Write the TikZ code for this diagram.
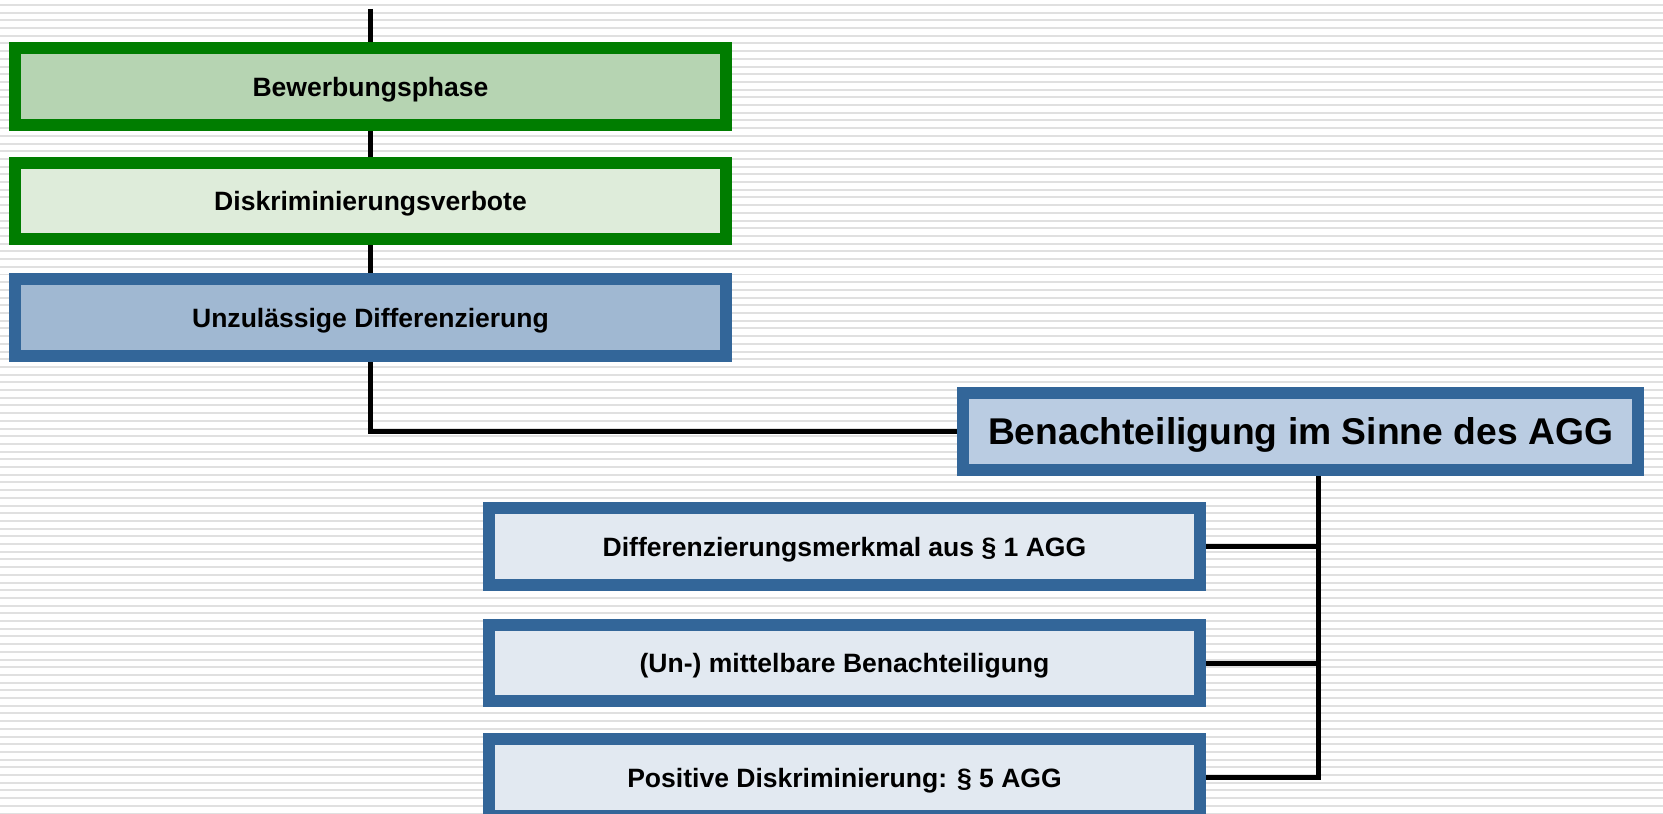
\documentclass[tikz,border=0pt]{standalone}
\usepackage{fontspec}
\setmainfont{Liberation Sans}
\usetikzlibrary{positioning,backgrounds}
\definecolor{agggreen}{RGB}{0,125,0}
\definecolor{aggblue}{RGB}{51,102,153}
\definecolor{phasefill}{RGB}{182,212,178}
\definecolor{verbotfill}{RGB}{222,236,218}
\definecolor{diffill}{RGB}{160,184,210}
\definecolor{benfill}{RGB}{186,204,226}
\definecolor{subfill}{RGB}{226,233,241}
\definecolor{bgline}{RGB}{224,224,224}
\begin{document}
\begin{tikzpicture}[x=0.02cm,y=-0.02cm,
  box/.style={draw,line width=0.24cm,inner sep=0pt,minimum width=14.22cm,minimum height=1.54cm,
    text depth=0pt,font=\fontsize{15.1}{18}\selectfont\bfseries},
  greenbox/.style={box,draw=agggreen},
  bluebox/.style={box,draw=aggblue},
  link/.style={line width=0.1cm}]
\useasboundingbox (0,0) rectangle (1663,814);
% left column
\node[greenbox,fill=phasefill] (phase) at (370.5,86.5) {Bewerbungsphase};
\node[greenbox,fill=verbotfill] (verbot) at (370.5,201) {Diskriminierungsverbote};
\node[bluebox,fill=diffill] (diff) at (370.5,317.5) {Unzulässige Differenzierung};
% main node
\node[bluebox,fill=benfill,minimum width=13.5cm,font=\fontsize{21.2}{25}\selectfont\bfseries]
  (benacht) at (1300.5,431.5) {Benachteiligung im Sinne des AGG};
% sub points
\node[bluebox,fill=subfill] (merkmal) at (844.5,546.5) {Differenzierungsmerkmal aus § 1 AGG};
\node[bluebox,fill=subfill] (mittel) at (844.5,663) {(Un-) mittelbare Benachteiligung};
\node[bluebox,fill=subfill] (positiv) at (844.5,777.5) {Positive Diskriminierung: § 5 AGG};
\coordinate (top) at (370.5,9);
\coordinate (bus) at (1318,0);
\begin{scope}[on background layer]
\foreach \y in {5,12.7,...,814}
  \draw[bgline,line width=0.04cm] (0,\y) -- (1663,\y);
\draw[link] (top) -- (phase);
\draw[link] (phase) -- (verbot);
\draw[link] (verbot) -- (diff);
\draw[link] (diff.south) |- (benacht.west);
\draw[link] (benacht.south -| bus) |- (positiv.east);
\draw[link] (merkmal.east) -- (merkmal.east -| bus);
\draw[link] (mittel.east) -- (mittel.east -| bus);
\end{scope}
\end{tikzpicture}
\end{document}
